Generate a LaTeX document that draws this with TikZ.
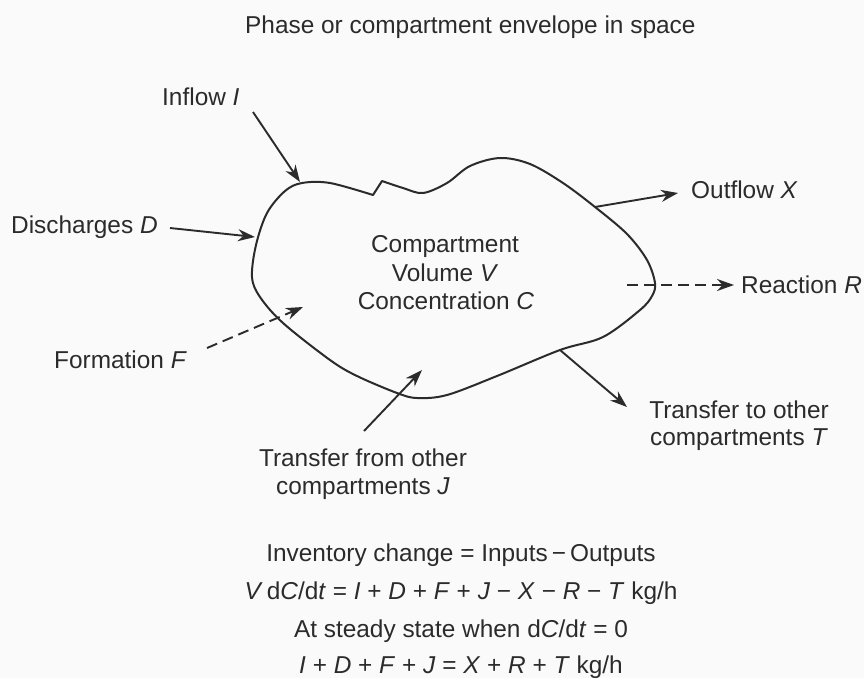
\documentclass[tikz,border=0pt]{standalone}
\usepackage{fontspec}
\setmainfont{Liberation Sans}
\usetikzlibrary{arrows.meta}
\definecolor{ink}{HTML}{2B2B2B}
\definecolor{paper}{HTML}{FAFAFA}
\begin{document}
\begin{tikzpicture}[x=1pt,y=-1pt,
  lbl/.style={inner sep=0pt, text=ink, font=\fontsize{24.4}{28}\selectfont},
  arr/.style={draw=ink, line width=1.9pt, -{Stealth[length=17pt,width=12pt,inset=5.5pt]}},
  dasharr/.style={arr, dash pattern=on 11pt off 6pt},
  envelope/.style={draw=ink, line width=2pt, line join=round}]
\useasboundingbox[fill=paper] (0,0) rectangle (864,678);

% envelope (compartment)
\draw[envelope] plot[smooth, tension=0.55] coordinates {
  (382,181) (403,188) (423,193) (447,183) (470,166) (500,158) (530,164)
  (563,183) (595,207) (627,234) (647,260) (655,283) (652,296) (640,310)
  (603,337) (560,350) (497,376) (447,395) (417,398) (397,393) (357,376)
  (330,360) (283,323) (260,297) (252,277) (256,245) (267,213) (285,191)
  (302,183) (330,183) (373,195)} -- cycle;

% labels
\node[lbl, anchor=base west] (title) at (245,33) {Phase or compartment envelope in space};
\node[lbl, anchor=base west] (inflow) at (162,105) {Inflow \textit{I}};
\node[lbl, anchor=base west] (disch) at (11,233) {Discharges \textit{D}};
\node[lbl, anchor=base west] (form) at (54,368) {Formation \textit{F}};
\node[lbl, anchor=base west] (outflow) at (691,198) {Outflow \textit{X}};
\node[lbl, anchor=base west] (react) at (741,293) {Reaction \textit{R}};
\node[lbl, anchor=base] (tto1) at (739,418) {Transfer to other};
\node[lbl, anchor=base] (tto2) at (739,445) {compartments \textit{T}};
\node[lbl, anchor=base] (tfrom1) at (363,466) {Transfer from other};
\node[lbl, anchor=base] (tfrom2) at (363,494) {compartments \textit{J}};
\node[lbl, anchor=base] (comp1) at (445,252) {Compartment};
\node[lbl, anchor=base] (comp2) at (445,281) {Volume \textit{V}};
\node[lbl, anchor=base] (comp3) at (446,309) {Concentration \textit{C}};

% equations
\node[lbl, anchor=base] (eq1) at (461,561) {Inventory change = Inputs\,−\,Outputs};
\node[lbl, anchor=base] (eq2) at (461,599) {\textit{V}\,d\textit{C}/d\textit{t} = \textit{I} + \textit{D} + \textit{F} + \textit{J} − \textit{X} − \textit{R} − \textit{T} kg/h};
\node[lbl, anchor=base] (eq3) at (461,637) {At steady state when d\textit{C}/d\textit{t} = 0};
\node[lbl, anchor=base] (eq4) at (461,673) {\textit{I} + \textit{D} + \textit{F} + \textit{J} = \textit{X} + \textit{R} + \textit{T} kg/h};

% connector end points
\coordinate (iS) at (253,112); \coordinate (iE) at (300,182);
\coordinate (dS) at (170,228); \coordinate (dE) at (255,237);
\coordinate (fS) at (207,348); \coordinate (fE) at (303,307);
\coordinate (jS) at (364,431); \coordinate (jE) at (422,370);
\coordinate (xS) at (595,207); \coordinate (xE) at (678,193);
\coordinate (rS) at (627,285); \coordinate (rE) at (734,285);
\coordinate (tS) at (560,350); \coordinate (tE) at (627,407);

\draw[arr] (iS) -- (iE);
\draw[arr] (dS) -- (dE);
\draw[dasharr] (fS) -- (fE);
\draw[arr] (jS) -- (jE);
\draw[arr] (xS) -- (xE);
\draw[dasharr] (rS) -- (rE);
\draw[arr] (tS) -- (tE);
\end{tikzpicture}
\end{document}
